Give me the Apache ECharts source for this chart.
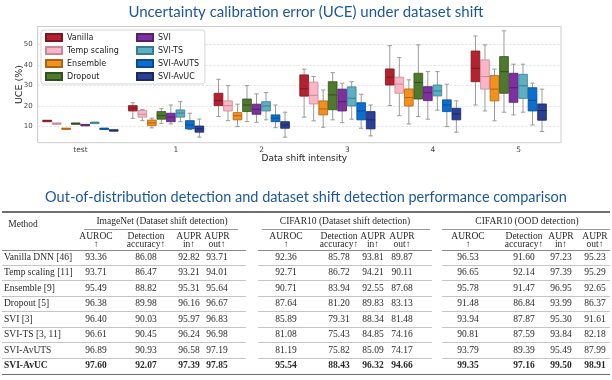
<!DOCTYPE html>
<html>
<head>
<meta charset="utf-8">
<script src="https://cdn.jsdelivr.net/npm/echarts@6/dist/echarts.min.js"></script>
<style>
  html, body { margin: 0; padding: 0; background: #fff; }
  #wrap { position: relative; width: 612px; height: 380px; overflow: hidden; }
  #chart { position: absolute; left: 0; top: 0; width: 612px; height: 380px; }
  #table { position: absolute; left: 0; top: 0; width: 612px; height: 380px; pointer-events: none;
           font-family: 'Liberation Serif', 'Times New Roman', serif; font-size: 9.5px; color: #2a2a2a; }
  .t { position: absolute; white-space: nowrap; line-height: 1; }
  .c { transform: translate(-50%, -50%); }
  .l { transform: translate(0, -50%); }
  .r { position: absolute; }
</style>
</head>
<body>
<div id="wrap">
  <div id="chart"></div>
  <div id="table"></div>
</div>
<script>
// ---------------- chart data ----------------
const xLabels = ['test', '1', '2', '3', '4', '5'];
const yTicks = [10, 20, 30, 40, 50];
const methodNames = ['Vanilla', 'Temp scaling', 'Ensemble', 'Dropout', 'SVI', 'SVI-TS', 'SVI-AvUTS', 'SVI-AvUC'];
// each entry: [min, q1, median, q3, max] for shift level test, 1, 2, 3, 4, 5
const vanillaUCE   = [[12.5,12.5,12.8,13.1,13.1],[14.0,17.6,19.0,20.2,21.6],[14.9,20.2,22.6,26.2,33.0],[14.6,24.8,28.4,35.1,37.9],[20.2,30.2,34.0,38.0,49.3],[20.5,31.8,38.3,46.7,54.0]];
const tempUCE      = [[11.2,11.2,11.5,11.8,11.8],[12.9,14.6,16.0,17.8,18.4],[12.9,17.6,20.2,22.5,29.9],[12.8,21.0,25.2,31.6,34.3],[15.3,26.2,30.6,34.0,43.5],[17.6,28.2,34.3,42.4,49.7]];
const ensembleUCE  = [[8.7,8.7,9.0,9.3,9.3],[9.4,10.5,11.8,13.2,14.1],[10.0,13.3,15.3,16.8,20.9],[9.7,15.7,18.6,22.5,27.8],[11.3,20.0,24.1,28.3,32.7],[12.8,22.5,28.2,34.8,37.9]];
const dropoutUCE   = [[11.2,11.2,11.5,11.8,11.8],[11.6,13.6,15.3,17.3,18.7],[12.4,17.3,20.5,23.4,29.9],[13.3,18.2,25.4,31.8,36.2],[14.9,23.4,31.4,35.9,49.7],[17.0,26.2,36.7,44.0,56.5]];
const sviUCE       = [[10.5,10.5,10.8,11.1,11.1],[11.3,12.4,14.6,16.5,20.5],[12.1,16.0,18.4,20.9,25.9],[11.9,17.6,22.1,28.2,31.1],[13.6,22.6,26.5,29.4,36.7],[15.7,21.8,28.9,35.9,40.3]];
const sviTsUCE     = [[11.6,11.6,11.9,12.2,12.2],[12.4,14.6,16.6,18.1,22.1],[13.3,17.6,20.0,22.1,26.5],[13.6,20.0,23.8,29.3,31.8],[18.0,24.9,27.3,30.2,36.7],[17.0,23.7,29.8,35.4,40.3]];
const sviAvutsUCE  = [[8.7,8.7,9.0,9.3,9.3],[8.6,8.9,10.8,12.9,16.5],[9.5,12.4,14.1,15.7,20.5],[9.2,13.3,17.6,21.6,25.7],[10.0,17.3,20.5,23.0,30.6],[10.8,17.6,22.8,28.9,31.1]];
const sviAvucUCE   = [[7.9,7.9,8.2,8.5,8.5],[4.9,7.3,8.9,10.3,13.7],[4.9,9.2,10.8,12.4,17.0],[5.5,8.9,13.3,17.3,20.5],[7.3,13.3,16.2,18.9,22.5],[7.6,13.1,17.8,21.0,28.2]];
const uceData = [vanillaUCE, tempUCE, ensembleUCE, dropoutUCE, sviUCE, sviTsUCE, sviAvutsUCE, sviAvucUCE];

// ---------------- table data ----------------
const tableMethods = ['Vanilla DNN [46]', 'Temp scaling [11]', 'Ensemble [9]', 'Dropout [5]', 'SVI [3]', 'SVI-TS [3, 11]', 'SVI-AvUTS', 'SVI-AvUC'];
const groupHeaders = ['ImageNet (Dataset shift detection)', 'CIFAR10 (Dataset shift detection)', 'CIFAR10 (OOD detection)'];
const metricHeaders = [['AUROC', '\u2191'], ['Detection', 'accuracy\u2191'], ['AUPR', 'in\u2191'], ['AUPR', 'out\u2191']];
const imagenetShift = [
  ['93.36','86.08','92.82','93.71'], ['93.71','86.47','93.21','94.01'], ['95.49','88.82','95.31','95.64'], ['96.38','89.98','96.16','96.67'],
  ['96.40','90.03','95.97','96.83'], ['96.61','90.45','96.24','96.98'], ['96.89','90.93','96.58','97.19'], ['97.60','92.07','97.39','97.85']];
const cifarShift = [
  ['92.36','85.78','93.81','89.87'], ['92.71','86.72','94.21','90.11'], ['90.71','83.94','92.55','87.68'], ['87.64','81.20','89.83','83.13'],
  ['85.89','79.31','88.34','81.48'], ['81.08','75.43','84.85','74.16'], ['81.19','75.82','85.09','74.17'], ['95.54','88.43','96.32','94.66']];
const cifarOod = [
  ['96.53','91.60','97.23','95.23'], ['96.65','92.14','97.39','95.29'], ['95.78','91.47','96.95','92.65'], ['91.48','86.84','93.99','86.37'],
  ['93.94','87.87','95.30','91.61'], ['90.81','87.59','93.84','82.18'], ['93.79','89.39','95.49','87.99'], ['99.35','97.16','99.50','98.91']];
const tableGroups = [imagenetShift, cifarShift, cifarOod];

// ---------------- styles ----------------
const fills = ['#b5212e', '#fbb6c6', '#f3901e', '#4f7a2e', '#7f2f9f', '#5cb0c4', '#0b6fd0', '#2b3f94'];
const edges = ['#7a1820', '#c4899a', '#ad6414', '#31501b', '#53206a', '#3a7c8c', '#094d8e', '#1a2866'];
const whiskerColor = '#9a9a9a';
const hueStep = 0.111;
const boxW = 0.102;
const labelShift = 0.115;

function makeRender(si) {
  return function (params, api) {
    const n = methodNames.length;
    const xc = api.value(0) + (si - (n - 1) / 2) * hueStep;
    const lo = api.coord([xc, api.value(1)]);
    const q1 = api.coord([xc, api.value(2)]);
    const md = api.coord([xc, api.value(3)]);
    const q3 = api.coord([xc, api.value(4)]);
    const hi = api.coord([xc, api.value(5)]);
    const w = api.size([boxW, 0])[0];
    const cx = lo[0];
    const ws = { stroke: whiskerColor, lineWidth: 1 };
    const children = [];
    if (hi[1] < q3[1] - 0.5) {
      children.push({ type: 'line', shape: { x1: cx, y1: q3[1], x2: cx, y2: hi[1] }, style: ws });
      children.push({ type: 'line', shape: { x1: cx - w / 4, y1: hi[1], x2: cx + w / 4, y2: hi[1] }, style: ws });
    }
    if (lo[1] > q1[1] + 0.5) {
      children.push({ type: 'line', shape: { x1: cx, y1: q1[1], x2: cx, y2: lo[1] }, style: ws });
      children.push({ type: 'line', shape: { x1: cx - w / 4, y1: lo[1], x2: cx + w / 4, y2: lo[1] }, style: ws });
    }
    children.push({ type: 'rect', shape: { x: cx - w / 2, y: q3[1], width: w, height: Math.max(q1[1] - q3[1], 1.5) },
      style: { fill: fills[si], stroke: edges[si], lineWidth: 0.8 } });
    children.push({ type: 'line', shape: { x1: cx - w / 2, y1: md[1], x2: cx + w / 2, y2: md[1] },
      style: { stroke: edges[si], lineWidth: 1 } });
    return { type: 'group', children };
  };
}

const chart = echarts.init(document.getElementById('chart'), null, { renderer: 'canvas' });
const font = 'DejaVu Sans';
const legendCommon = {
  orient: 'vertical', top: 30,
  icon: 'rect', itemWidth: 16, itemHeight: 7, itemGap: 4,
  textStyle: { fontFamily: font, fontSize: 8, color: '#222' }
};
chart.setOption({
  animation: false,
  backgroundColor: '#fff',
  title: [
    { text: 'Uncertainty calibration error (UCE) under dataset shift', left: 'center', top: 3,
      padding: [2, 18, 2, 2],
      textStyle: { fontFamily: 'Lato', fontSize: 15, fontWeight: 'normal', color: '#1e5799' } },
    { text: 'Out-of-distribution detection and dataset shift detection performance comparison', left: 'center', top: 188,
      padding: [2, 2, 2, 2],
      textStyle: { fontFamily: 'Lato', fontSize: 14.5, fontWeight: 'normal', color: '#1e5799' } }
  ],
  legend: [
    Object.assign({}, legendCommon, {
      data: methodNames.slice(0, 4), left: 41,
      padding: [3, 86, 3, 4],
      backgroundColor: 'rgba(255,255,255,0.9)', borderColor: '#d6d6d6', borderWidth: 1, borderRadius: 3
    }),
    Object.assign({}, legendCommon, {
      data: methodNames.slice(4), left: 133,
      padding: [3, 2, 3, 3]
    })
  ],
  grid: { left: 37.6, right: 51, top: 26.5, bottom: 237.3, show: true, borderColor: '#cccccc', borderWidth: 1,
          backgroundColor: 'transparent', outerBoundsMode: 'none' },
  xAxis: {
    type: 'value', min: -0.5, max: 5.61,
    axisLine: { show: false }, axisTick: { show: false }, splitLine: { show: false },
    axisLabel: {
      customValues: xLabels.map((l, i) => i + (i > 0 ? labelShift : 0)),
      formatter: v => xLabels[Math.round(v)],
      fontFamily: font, fontSize: 7.5, color: '#444', margin: 3
    },
    name: 'Data shift intensity', nameLocation: 'middle', nameGap: 11, nameMoveOverlap: false,
    nameTextStyle: { fontFamily: font, fontSize: 9, color: '#222', padding: [0, 0, 0, 10] }
  },
  yAxis: {
    type: 'value', min: 2.2, max: 58.6,
    axisLine: { show: false },
    axisTick: { show: false, customValues: yTicks },
    axisLabel: { customValues: yTicks, fontFamily: font, fontSize: 7, color: '#444', margin: 5 },
    splitLine: { show: true, lineStyle: { color: '#d8d8d8', width: 0.8, type: [2, 2] } },
    name: 'UCE (%)', nameLocation: 'middle', nameGap: 13, nameMoveOverlap: false,
    nameTextStyle: { fontFamily: font, fontSize: 9.5, color: '#222' }
  },
  series: methodNames.map((name, si) => ({
    type: 'custom', name,
    data: uceData[si].map((b, k) => [k].concat(b)),
    encode: { x: 0, y: [1, 2, 3, 4, 5] },
    renderItem: makeRender(si),
    itemStyle: { color: fills[si], borderColor: edges[si], borderWidth: 1 },
    clip: false
  }))
});

// ---------------- table ----------------
const T = document.getElementById('table');
const colCenters = [[96, 146, 189, 217], [286, 339, 373, 402], [468, 524, 561, 595]];
const groupCenters = [162, 345, 527];
const groupSpans = [[84, 238], [262, 430], [442, 610]];
const rowSegments = [[2, 246], [258, 432], [442, 610]];
const yTop = 212, yGroup = 221.5, yCmid = 229.5, yH1 = 236.5, yH2 = 245, yHeadRule = 250.5;
const row0 = 257.5, rowStep = 15.5;
const yBottom = row0 + 7 * rowStep + 8.5;

function rule(x1, x2, y, h, color) {
  const d = document.createElement('div');
  d.className = 'r';
  d.style.left = x1 + 'px'; d.style.width = (x2 - x1) + 'px';
  d.style.top = (y - h / 2) + 'px'; d.style.height = h + 'px';
  d.style.background = color;
  T.appendChild(d);
}
function text(s, x, y, cls, bold) {
  const d = document.createElement('div');
  d.className = 't ' + cls;
  d.textContent = s;
  d.style.left = x + 'px'; d.style.top = y + 'px';
  if (bold) d.style.fontWeight = 'bold';
  T.appendChild(d);
}

rule(2, 610, yTop, 1.6, '#6f6f6f');
rule(2, 610, yBottom, 1.6, '#6f6f6f');
text('Method', 23, yGroup + 3, 'c');
groupHeaders.forEach((g, gi) => {
  text(g, groupCenters[gi], yGroup, 'c');
  rule(groupSpans[gi][0], groupSpans[gi][1], yCmid, 0.8, '#9a9a9a');
  metricHeaders.forEach((m, mi) => {
    text(m[0], colCenters[gi][mi], yH1, 'c');
    text(m[1], colCenters[gi][mi], yH2, 'c');
  });
});
rowSegments.forEach(s => rule(s[0], s[1], yHeadRule, 0.9, '#8a8a8a'));
tableMethods.forEach((m, ri) => {
  const y = row0 + ri * rowStep;
  const bold = ri === tableMethods.length - 1;
  text(m, 4, y, 'l', bold);
  tableGroups.forEach((grp, gi) => {
    grp[ri].forEach((v, ci) => text(v, colCenters[gi][ci], y, 'c', bold));
  });
  if (ri < tableMethods.length - 1) {
    rowSegments.forEach(s => rule(s[0], s[1], y + rowStep / 2, 0.8, '#c4c4c4'));
  }
});
</script>
</body>
</html>
